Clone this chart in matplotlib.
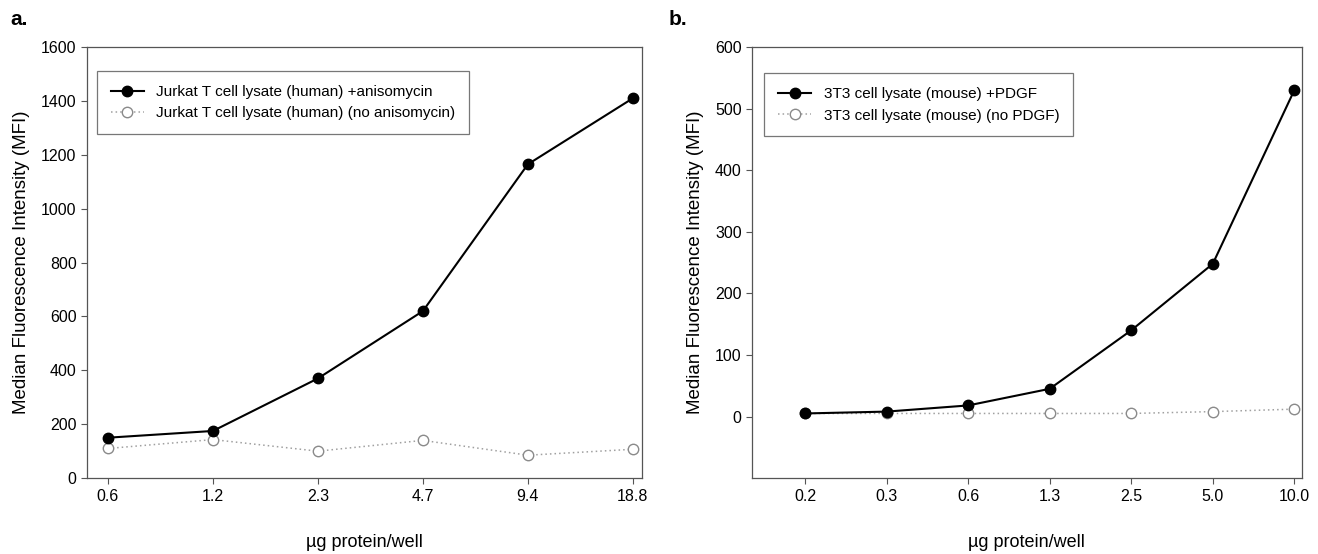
import matplotlib
matplotlib.use("Agg")
import matplotlib.pyplot as plt

plt.rcParams["font.family"] = ["Liberation Sans", "DejaVu Sans"]

# panel a: Jurkat T cell lysate
a_doses = ["0.6", "1.2", "2.3", "4.7", "9.4", "18.8"]
a_stim = [150, 175, 370, 620, 1165, 1410]
a_ctrl = [110, 143, 100, 140, 85, 107]

# panel b: 3T3 cell lysate
b_doses = ["0.2", "0.3", "0.6", "1.3", "2.5", "5.0", "10.0"]
b_stim = [5, 8, 18, 45, 140, 248, 530]
b_ctrl = [5, 5, 5, 5, 5, 8, 12]


def panel(ax, doses, stim, ctrl, stim_label, ctrl_label, ylim, yticks, xpad, legend_box):
    x = list(range(len(doses)))
    ax.plot(x, stim, color="black", lw=1.5, marker="o", ms=7.5,
            mfc="black", mec="black", label=stim_label, zorder=3)
    ax.plot(x, ctrl, color="#a0a0a0", lw=1.1, ls=(0, (1, 2)), marker="o", ms=7.5,
            mfc="white", mec="#8a8a8a", mew=1.0, label=ctrl_label, zorder=2)
    ax.set_xticks(x)
    ax.set_xticklabels(doses)
    ax.set_xlim(-xpad[0], len(doses) - 1 + xpad[1])
    ax.set_ylim(*ylim)
    ax.set_yticks(yticks)
    ax.tick_params(direction="out", length=4, width=0.8, labelsize=11.5, color="#555555")
    for s in ax.spines.values():
        s.set_color("#555555")
        s.set_linewidth(0.9)
    ax.set_ylabel("Median Fluorescence Intensity (MFI)", fontsize=13.5, labelpad=8)
    ax.set_xlabel("\u00b5g protein/well", fontsize=13, labelpad=22)
    leg = ax.legend(loc="upper left", bbox_to_anchor=legend_box, fontsize=11,
                    frameon=True, fancybox=False, edgecolor="#555555",
                    handlelength=2.2, borderpad=0.9, labelspacing=0.5)
    leg.get_frame().set_linewidth(0.9)


fig = plt.figure(figsize=(13.18, 5.54), dpi=100)
ax_a = fig.add_axes([0.066, 0.137, 0.421, 0.778])
ax_b = fig.add_axes([0.5706, 0.137, 0.417, 0.778])

panel(ax_a, a_doses, a_stim, a_ctrl,
      "Jurkat T cell lysate (human) +anisomycin",
      "Jurkat T cell lysate (human) (no anisomycin)",
      (0, 1600), range(0, 1601, 200), (0.2, 0.086), (0.004, 0.962))
panel(ax_b, b_doses, b_stim, b_ctrl,
      "3T3 cell lysate (mouse) +PDGF",
      "3T3 cell lysate (mouse) (no PDGF)",
      (-100, 600), range(0, 601, 100), (0.65, 0.09), (0.008, 0.957))

fig.text(0.008, 0.955, "a.", fontsize=15, fontweight="bold")
fig.text(0.507, 0.955, "b.", fontsize=15, fontweight="bold")

fig.savefig("out.png", dpi=100)
